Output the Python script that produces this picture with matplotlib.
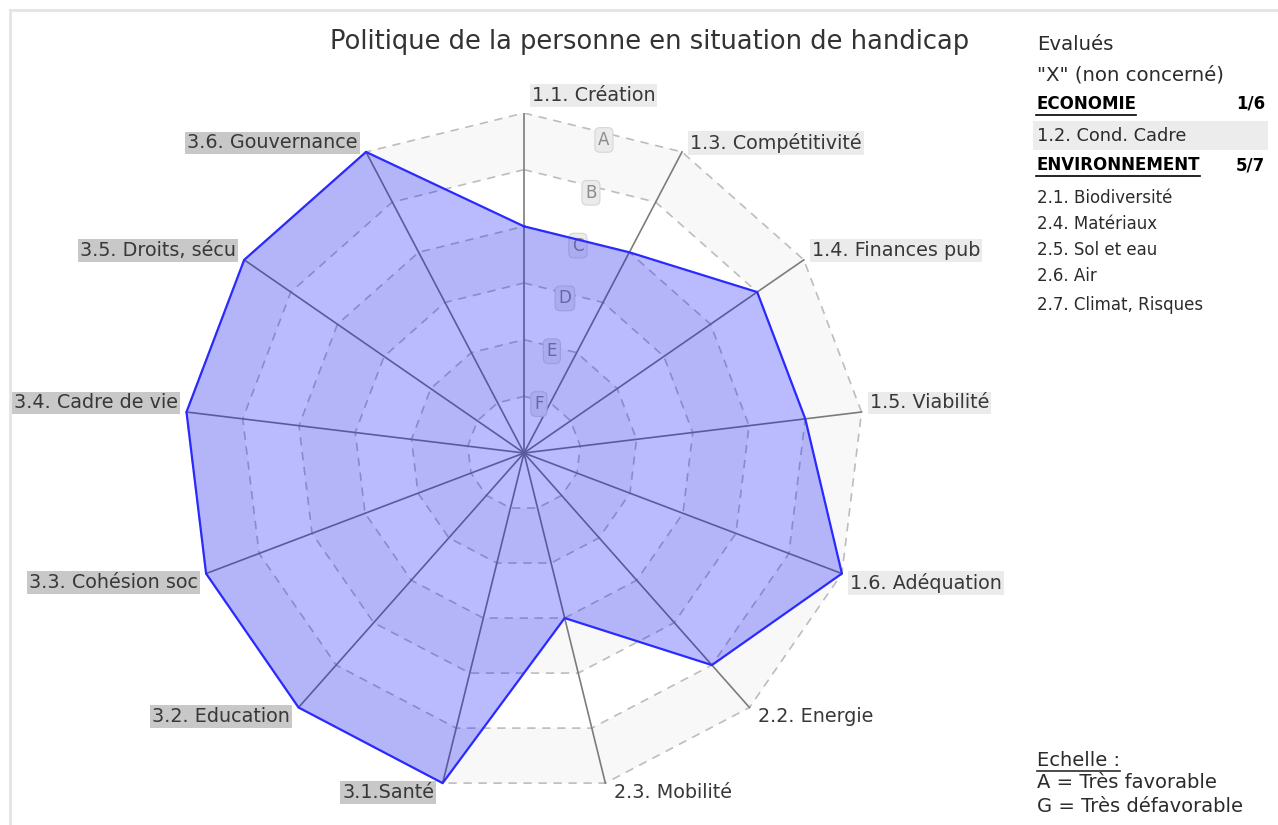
import numpy as np
import matplotlib
matplotlib.use("Agg")
import matplotlib.pyplot as plt
from matplotlib.lines import Line2D
from matplotlib.patches import Rectangle

# data
categories = ["1.1. Création", "1.3. Compétitivité", "1.4. Finances pub", "1.5. Viabilité",
              "1.6. Adéquation", "2.2. Energie", "2.3. Mobilité", "3.1.Santé",
              "3.2. Education", "3.3. Cohésion soc", "3.4. Cadre de vie",
              "3.5. Droits, sécu", "3.6. Gouvernance"]
groups = ["eco", "eco", "eco", "eco", "eco", "env", "env",
          "soc", "soc", "soc", "soc", "soc", "soc"]
scores = [4, 4, 5, 5, 6, 5, 3, 6, 6, 6, 6, 6, 6]
grades = ["A", "B", "C", "D", "E", "F"]
max_score = 6

title = "Politique de la personne en situation de handicap"
eco_excluded = ["1.2. Cond. Cadre"]
env_excluded = ["2.1. Biodiversité", "2.4. Matériaux", "2.5. Sol et eau", "2.6. Air",
                "2.7. Climat, Risques"]
eco_count = "1/6"
env_count = "5/7"

W, H = 1278, 825
fig = plt.figure(figsize=(W / 100, H / 100), dpi=100)
fig.patch.set_facecolor("white")

def px(x, y):
    return x / W, 1 - y / H

# cadre gris (haut et gauche seulement visibles)
fig.add_artist(Line2D([10 / W, 10 / W], [0, 1 - 10 / H], transform=fig.transFigure,
                      color="#e4e4e4", lw=2))
fig.add_artist(Line2D([10 / W, 1], [1 - 10 / H, 1 - 10 / H], transform=fig.transFigure,
                      color="#e4e4e4", lw=2))

# radar : centre (524, 453), rayon 340 px
ax = fig.add_axes([184 / W, 32 / H, 680 / W, 680 / H])
ax.set_xlim(-max_score, max_score)
ax.set_ylim(-max_score, max_score)
ax.set_aspect("equal")
ax.axis("off")

n = len(categories)
angles = np.pi / 2 - np.arange(n) * 2 * np.pi / n
cs, sn = np.cos(angles), np.sin(angles)
ring_c = np.append(cs, cs[0])
ring_s = np.append(sn, sn[0])

# bandes alternées
for k in range(max_score, 0, -1):
    fc = "#f8f8f8" if (max_score - k) % 2 == 0 else "white"
    ax.fill(k * ring_c, k * ring_s, color=fc, zorder=0, lw=0)
for k in range(1, max_score + 1):
    ax.plot(k * ring_c, k * ring_s, color="#bdbdbd", lw=1.2, ls=(0, (5, 4)), zorder=1)

# rayons
for c, s in zip(cs, sn):
    ax.plot([0, max_score * c], [0, max_score * s], color="#7c7c7c", lw=1.2, zorder=2)

# lettres de l'échelle
mid = np.pi / 2 - np.pi / n
for i, g in enumerate(grades):
    r = 0.96 * (max_score - i) - 0.07
    ax.annotate(g, (r * np.cos(mid), r * np.sin(mid)), xytext=(2, 0),
                textcoords="offset points", ha="center", va="center",
                fontsize=12, color="#8c8c8c", zorder=2,
                bbox=dict(boxstyle="round,pad=0.2,rounding_size=0.3",
                          fc="#ebebeb", ec="#d6d6d6", lw=0.8))

# polygone des scores
sc = np.array(scores + scores[:1], dtype=float)
ax.fill(sc * ring_c, sc * ring_s, color=(0, 0, 1), alpha=0.27, lw=0, zorder=3)
ax.plot(sc * ring_c, sc * ring_s, color="#2a2aff", lw=1.6, zorder=4)

# étiquettes des axes
box_colors = {"eco": "#ebebeb", "env": "none", "soc": "#c8c8c8"}
for i, (lab, grp) in enumerate(zip(categories, groups)):
    x, y = max_score * cs[i], max_score * sn[i]
    if i == 0:
        off, ha = (5.5, 12.5), "left"
    else:
        dx = 6 if cs[i] > 0 else -6
        dy = 6.5 if sn[i] > 0 else -6.5
        off, ha = (dx, dy), "left" if cs[i] > 0 else "right"
    ax.annotate(lab, (x, y), xytext=off, textcoords="offset points", ha=ha, va="center",
                fontsize=13.8, color="#383838", zorder=5, annotation_clip=False,
                bbox=dict(boxstyle="square,pad=0.1", fc=box_colors[grp], ec="none"))

# titre
fig.text(*px(650, 42), title, ha="center", va="center", fontsize=18.5, color="#333333")

# panneau de droite
txt_color = "#2b2b2b"
fig.text(*px(1037, 45), "Evalués", ha="left", va="center", fontsize=14.2, color=txt_color)
fig.text(*px(1037, 75), '"X" (non concerné)', ha="left", va="center", fontsize=14.2,
         color=txt_color)

underline = []
t = fig.text(*px(1036, 104), "ECONOMIE", ha="left", va="center", fontsize=12,
             fontweight="bold", color="black")
underline.append(t)
fig.text(*px(1265, 104), eco_count, ha="right", va="center", fontsize=12,
         fontweight="bold", color="black")
fig.add_artist(Rectangle(px(1033, 150), 235 / W, 29 / H, transform=fig.transFigure,
                         fc="#ececec", ec="none"))
for j, item in enumerate(eco_excluded):
    fig.text(*px(1037, 136 + j * 26), item, ha="left", va="center", fontsize=12.8,
             color=txt_color)

t = fig.text(*px(1036, 165), "ENVIRONNEMENT", ha="left", va="center", fontsize=12,
             fontweight="bold", color="black")
underline.append(t)
fig.text(*px(1265, 165), env_count, ha="right", va="center", fontsize=12,
         fontweight="bold", color="black")
env_y = [198, 224, 250, 276, 305]
for item, yy in zip(env_excluded, env_y):
    fig.text(*px(1037, yy), item, ha="left", va="center", fontsize=12, color=txt_color)

t = fig.text(*px(1037, 760), "Echelle :", ha="left", va="center", fontsize=14,
             color=txt_color)
underline.append(t)
fig.text(*px(1037, 783), "A = Très favorable", ha="left", va="center", fontsize=14,
         color=txt_color)
fig.text(*px(1037, 806), "G = Très défavorable", ha="left", va="center", fontsize=14,
         color=txt_color)

# soulignements
fig.canvas.draw()
renderer = fig.canvas.get_renderer()
for t in underline:
    bb = t.get_window_extent(renderer).transformed(fig.transFigure.inverted())
    yl = bb.y0 - 1.5 / H
    fig.add_artist(Line2D([bb.x0, bb.x1], [yl, yl], transform=fig.transFigure,
                          color=t.get_color(), lw=1.2))

fig.savefig("out.png", dpi=100)
